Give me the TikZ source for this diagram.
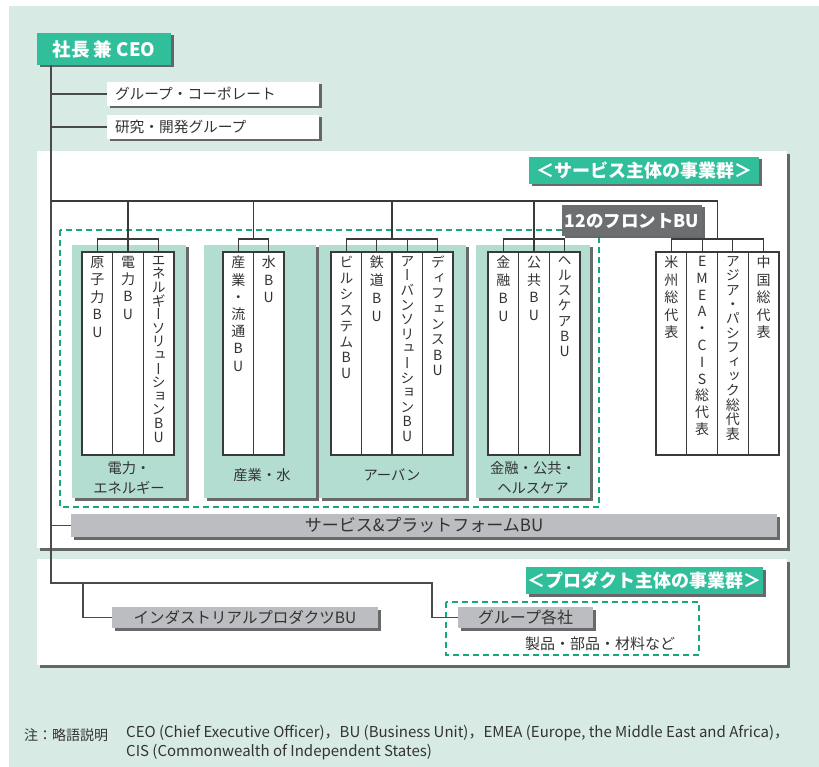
\documentclass[tikz,border=0pt]{standalone}
\usepackage{fontspec}
\usepackage{graphicx}
\setmainfont{Noto Sans CJK JP}
\newfontfamily\vjp{Noto Sans CJK JP}[RawFeature=+vert]
\usetikzlibrary{shadows}
\definecolor{bgc}{HTML}{D7EBE4}
\definecolor{tealc}{HTML}{30BE9B}
\definecolor{lgreen}{HTML}{B3DDD0}
\definecolor{grayc}{HTML}{BCBDC0}
\definecolor{darkg}{HTML}{6D6E71}
\definecolor{dashg}{HTML}{14A97A}
\definecolor{shadowc}{HTML}{58595B}
\definecolor{txt}{HTML}{333333}
\definecolor{linec}{HTML}{3A3A3A}
\definecolor{trunkc}{HTML}{4A4A4A}
\begin{document}
\begin{tikzpicture}[x=1pt,y=-1pt,
  rect/.style={rectangle, inner sep=0pt, outer sep=0pt, anchor=north west},
  shad/.style={drop shadow={shadow xshift=2.5pt,shadow yshift=-2.5pt,fill=shadowc,opacity=0.9}},
  pshad/.style={drop shadow={shadow xshift=3pt,shadow yshift=-3pt,fill=shadowc,opacity=0.9}},
  teallabel/.style={rect, fill=tealc, shad, text=white, font=\fontsize{18}{20}\selectfont\bfseries},
  whitebox/.style={rect, fill=white, shad, text=txt, inner xsep=8pt, align=left, font=\fontsize{14.7}{17}\selectfont},
  graybox/.style={rect, fill=grayc, shad, text=txt},
  panel/.style={rect, fill=white, pshad},
  gpanel/.style={rect, fill=lgreen, shad},
  col/.style={rect, fill=white, draw=linec, line width=1.1pt, minimum height=203pt},
  vt/.style={anchor=north, align=center, inner sep=0pt, text=txt, font=\vjp\fontsize{14}{#1}\selectfont},
  glabel/.style={align=center, inner sep=0pt, text=txt, font=\fontsize{14.3}{20}\selectfont},
  tree/.style={draw=linec, line width=1.1pt},
  trunk/.style={draw=trunkc, line width=1.5pt},
  dashbox/.style={draw=dashg, line width=1.6pt, dash pattern=on 6pt off 4pt}
]
\useasboundingbox (0,0) rectangle (819,767);
\fill[bgc] (9,6) rectangle (819,767);

% panels
\node[panel, minimum width=750pt, minimum height=397pt] (svcpanel) at (37,151) {};
\node[panel, minimum width=750pt, minimum height=106pt] (prodpanel) at (37,559) {};

% top boxes
\node[teallabel, minimum width=134pt, minimum height=32pt, font=\fontsize{18.5}{20}\selectfont\bfseries] (ceo) at (37,33) {社長 兼 CEO};
\node[whitebox, text width=196pt, minimum height=24pt] (gc) at (107,82) {グループ・コーポレート};
\node[whitebox, text width=196pt, minimum height=24pt] (rd) at (107,115) {研究・開発グループ};

\node[teallabel, minimum width=230pt, minimum height=27pt] (svclabel) at (529,157) {＜サービス主体の事業群＞};

% dashed front BU frame
\draw[dashbox] (60,230) rectangle (599,507);

% group panels
\node[gpanel, minimum width=114pt, minimum height=253pt] (g1) at (72,245) {};
\node[gpanel, minimum width=112pt, minimum height=253pt] (g2) at (204,245) {};
\node[gpanel, minimum width=147pt, minimum height=253pt] (g3) at (319,245) {};
\node[gpanel, minimum width=114pt, minimum height=253pt] (g4) at (476,245) {};

% columns
\node[col, minimum width=30.67pt] (c11) at (82,252) {};
\node[col, minimum width=30.67pt] (c12) at (112.67,252) {};
\node[col, minimum width=30.67pt] (c13) at (143.33,252) {};
\node[col, minimum width=30.5pt] (c21) at (223,252) {};
\node[col, minimum width=30.5pt] (c22) at (253.5,252) {};
\node[col, minimum width=30.5pt] (c31) at (331,252) {};
\node[col, minimum width=30.5pt] (c32) at (361.5,252) {};
\node[col, minimum width=30.5pt] (c33) at (392,252) {};
\node[col, minimum width=30.5pt] (c34) at (422.5,252) {};
\node[col, minimum width=30.67pt] (c41) at (488,252) {};
\node[col, minimum width=30.67pt] (c42) at (518.67,252) {};
\node[col, minimum width=30.67pt] (c43) at (549.33,252) {};
\node[col, minimum width=30.75pt] (r1) at (656,252) {};
\node[col, minimum width=30.75pt] (r2) at (686.75,252) {};
\node[col, minimum width=30.75pt] (r3) at (717.5,252) {};
\node[col, minimum width=30.75pt] (r4) at (748.25,252) {};

% vertical texts
\node[vt=17.5] (t11) at ([yshift=-4pt]c11.north) {原\\子\\力\\B\\U};
\node[vt=17.3] (t12) at ([yshift=-4pt]c12.north) {電\\力\\B\\U};
\node[vt=13.6] (t13) at ([yshift=-4pt]c13.north) {エ\\ネ\\ル\\ギ\\ー\\ソ\\リ\\ュ\\ー\\シ\\ョ\\ン\\B\\U};
\node[vt=17.2] (t21) at ([yshift=-4pt]c21.north) {産\\業\\・\\流\\通\\B\\U};
\node[vt=17.5] (t22) at ([yshift=-4pt]c22.north) {水\\B\\U};
\node[vt=15.9] (t31) at ([yshift=-4pt]c31.north) {ビ\\ル\\シ\\ス\\テ\\ム\\B\\U};
\node[vt=17.7] (t32) at ([yshift=-4pt]c32.north) {鉄\\道\\B\\U};
\node[vt=14.6] (t33) at ([yshift=-4pt]c33.north) {ア\\ー\\バ\\ン\\ソ\\リ\\ュ\\ー\\シ\\ョ\\ン\\B\\U};
\node[vt=15.4] (t34) at ([yshift=-4pt]c34.north) {デ\\ィ\\フ\\ェ\\ン\\ス\\B\\U};
\node[vt=17.7] (t41) at ([yshift=-4pt]c41.north) {金\\融\\B\\U};
\node[vt=17.7] (t42) at ([yshift=-4pt]c42.north) {公\\共\\B\\U};
\node[vt=15.2] (t43) at ([yshift=-4pt]c43.north) {ヘ\\ル\\ス\\ケ\\ア\\B\\U};
\node[vt=17.5] (tr1) at ([yshift=-4pt]r1.north) {米\\州\\総\\代\\表};
\node[vt=16.8] (tr2) at ([yshift=-4pt]r2.north) {E\\M\\E\\A\\・\\C\\I\\S\\総\\代\\表};
\node[vt=14.4] (tr3) at ([yshift=-4pt]r3.north) {ア\\ジ\\ア\\・\\パ\\シ\\フ\\ィ\\ッ\\ク\\総\\代\\表};
\node[vt=17.5] (tr4) at ([yshift=-4pt]r4.north) {中\\国\\総\\代\\表};

% group labels
\node[glabel] (g1l) at (129,478) {電力・\\エネルギー};
\node[glabel] (g2l) at (262,475) {産業・水};
\node[glabel] (g3l) at (392,475) {アーバン};
\node[glabel] (g4l) at (533,478) {金融・公共・\\ヘルスケア};

% front BU label
\node[rect, fill=darkg, shad, text=white, font=\fontsize{17.5}{20}\selectfont\bfseries, minimum width=140pt, minimum height=31pt] (front) at (562,205) {12のフロントBU};

% service & platform bar
\node[graybox, minimum width=706pt, minimum height=23pt, font=\fontsize{17}{19}\selectfont] (sp) at (71,514) {サービス\&プラットフォームBU};

% product section
\node[teallabel, minimum width=237pt, minimum height=27pt] (prodlabel) at (526,567) {＜プロダクト主体の事業群＞};
\draw[dashbox] (446,602) rectangle (699,655);
\node[graybox, minimum width=266pt, minimum height=21pt, font=\fontsize{15.5}{18}\selectfont] (ind) at (112,607) {インダストリアルプロダクツBU};
\node[graybox, minimum width=135pt, minimum height=21pt, font=\fontsize{16}{18}\selectfont] (grp) at (458,607) {グループ各社};
\node[text=txt, inner sep=0pt, font=\fontsize{15}{18}\selectfont] (parts) at (600,644) {製品・部品・材料など};

% note
\node[anchor=west, inner sep=0pt, text=txt, font=\fontsize{14}{19}\selectfont] (notehead) at (24,735) {注：略語説明};
\node[anchor=north west, inner sep=0pt, align=left, text=txt, font=\fontsize{15}{19.5}\selectfont] (notebody) at (126,725)
  {CEO (Chief Executive Officer)，BU (Business Unit)，EMEA (Europe, the Middle East and Africa)，\\CIS (Commonwealth of Independent States)};

% trunk and branches
\coordinate (tTop) at ([xshift=14pt]ceo.south west);
\coordinate (tBot) at (51,583);
\coordinate (kGrp) at (432,583);
\coordinate (kInd) at (83,583);
\draw[trunk] (tTop) -- (tBot) -- (kGrp) |- (grp.west);
\draw[trunk] (kInd) |- (ind.west);
\draw[trunk] (tTop |- gc.west) -- (gc.west);
\draw[trunk] (tTop |- rd.west) -- (rd.west);
\draw[trunk] (tTop |- sp.west) -- (sp.west);

% tree
\coordinate (h0) at (51,201);
\draw[tree] (h0) -- (r2.north east |- h0) -- ++(0,38);
\draw[tree] (c12.north |- h0) -- (c12.north);
\draw[tree] (c11.north) -- ++(0,-13) -| (c13.north);
\draw[tree] (c21.north east |- h0) -- ++(0,38);
\draw[tree] (c21.north) -- ++(0,-13) -| (c22.north);
\draw[tree] (c32.north east |- h0) -- ++(0,38);
\draw[tree] (c31.north) -- ++(0,-13) -| (c34.north);
\draw[tree] (c32.north) -- ++(0,-13);
\draw[tree] (c33.north) -- ++(0,-13);
\draw[tree] (c42.north |- h0) -- (c42.north);
\draw[tree] (c41.north) -- ++(0,-13) -| (c43.north);
\draw[tree] (r1.north) -- ++(0,-13) -| (r4.north);
\draw[tree] (r2.north) -- ++(0,-13);
\draw[tree] (r3.north) -- ++(0,-13);
\end{tikzpicture}
\end{document}
